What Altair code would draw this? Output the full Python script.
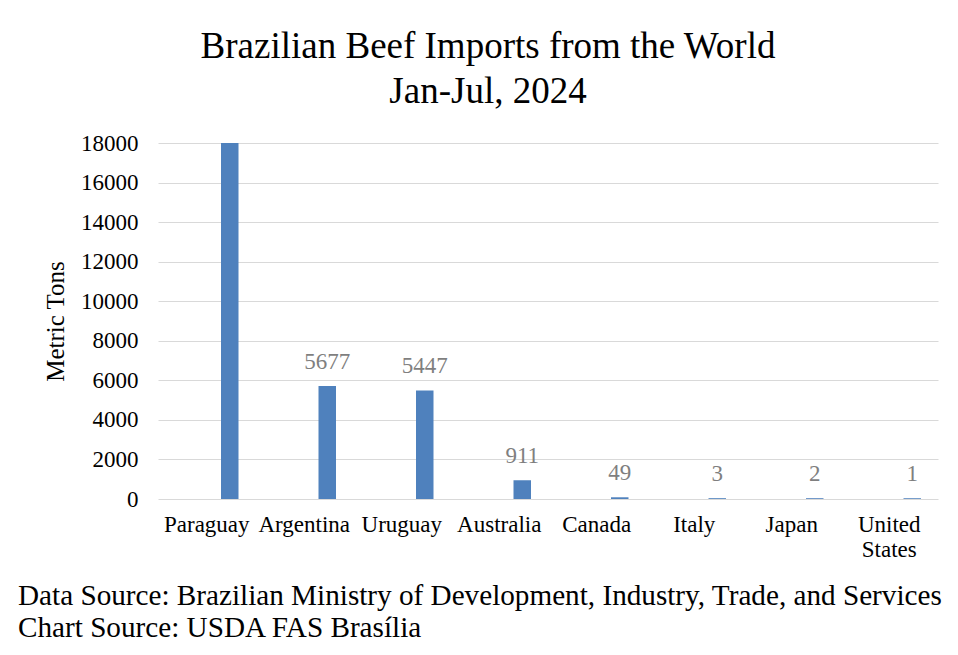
import altair as alt
import pandas as pd

countries = ["Paraguay", "Argentina", "Uruguay", "Australia", "Canada", "Italy", "Japan", "United States"]
tons = [18000, 5677, 5447, 911, 49, 3, 2, 1]
labels = ["", "5677", "5447", "911", "49", "3", "2", "1"]
y_ticks = [0, 2000, 4000, 6000, 8000, 10000, 12000, 14000, 16000, 18000]
title_lines = ["Brazilian Beef Imports from the World", "Jan-Jul, 2024"]
source_lines = [
    "Data Source: Brazilian Ministry of Development, Industry, Trade, and Services",
    "Chart Source: USDA FAS Brasília",
]

df = pd.DataFrame({"country": countries, "tons": tons, "label": labels})

FONT = "Liberation Serif"
BLUE = "#4f81bd"
W, H = 780, 356

x_enc = alt.X(
    "country:N",
    sort=countries,
    scale=alt.Scale(paddingInner=0, paddingOuter=0),
    axis=alt.Axis(
        title=None,
        labelFont=FONT,
        labelFontSize=23,
        labelColor="#000000",
        labelAngle=0,
        ticks=False,
        tickSize=0,
        domain=False,
        grid=False,
        labelPadding=14,
        labelLineHeight=25,
        labelOverlap=False,
        labelExpr="datum.value == 'United States' ? ['United', 'States'] : datum.value",
    ),
)
y_enc = alt.Y(
    "tons:Q",
    scale=alt.Scale(domain=[0, 18000], nice=False),
    axis=alt.Axis(
        values=y_ticks,
        format="d",
        title="Metric Tons",
        titleFont=FONT,
        titleFontSize=25,
        titleFontWeight="normal",
        titleColor="#000000",
        titlePadding=12,
        labelFont=FONT,
        labelFontSize=23,
        labelColor="#000000",
        labelPadding=20,
        labelOverlap=False,
        ticks=False,
        tickSize=0,
        domain=False,
        grid=True,
        gridColor="#d9d9d9",
        gridWidth=1.2,
    ),
)

bars = alt.Chart(df).mark_bar(
    color=BLUE, size=16, xOffset=23, stroke=BLUE, strokeWidth=1.5, clip=True
).encode(x=x_enc, y=y_enc)

text = alt.Chart(df).mark_text(
    font=FONT, fontSize=23, color="#7f7f7f", dy=-18, xOffset=23, baseline="alphabetic"
).encode(x=x_enc, y=y_enc, text="label:N")

foot_df1 = pd.DataFrame({"t": [source_lines[0]]})
foot_df2 = pd.DataFrame({"t": [source_lines[1]]})
foot1 = alt.Chart(foot_df1).mark_text(
    font=FONT, fontSize=29.2, color="#000000", align="left", baseline="alphabetic"
).encode(x=alt.value(-140), y=alt.value(462), text="t:N")
foot2 = alt.Chart(foot_df2).mark_text(
    font=FONT, fontSize=29.2, color="#000000", align="left", baseline="alphabetic"
).encode(x=alt.value(-140), y=alt.value(494), text="t:N")

chart = alt.layer(bars, text, foot1, foot2).properties(
    width=W,
    height=H,
    title=alt.TitleParams(
        title_lines,
        font=FONT,
        fontSize=37,
        fontWeight="normal",
        color="#000000",
        anchor="middle",
        frame="group",
        dx=-60,
        dy=28,
        offset=24,
        lineHeight=45,
    ),
    padding={"left": 150, "top": 135, "right": 10, "bottom": 150},
    autosize=alt.AutoSizeParams(type="none"),
    background="#ffffff",
).configure_view(stroke=None)

chart.save("out.html", embed_options={"renderer": "svg", "actions": False})
